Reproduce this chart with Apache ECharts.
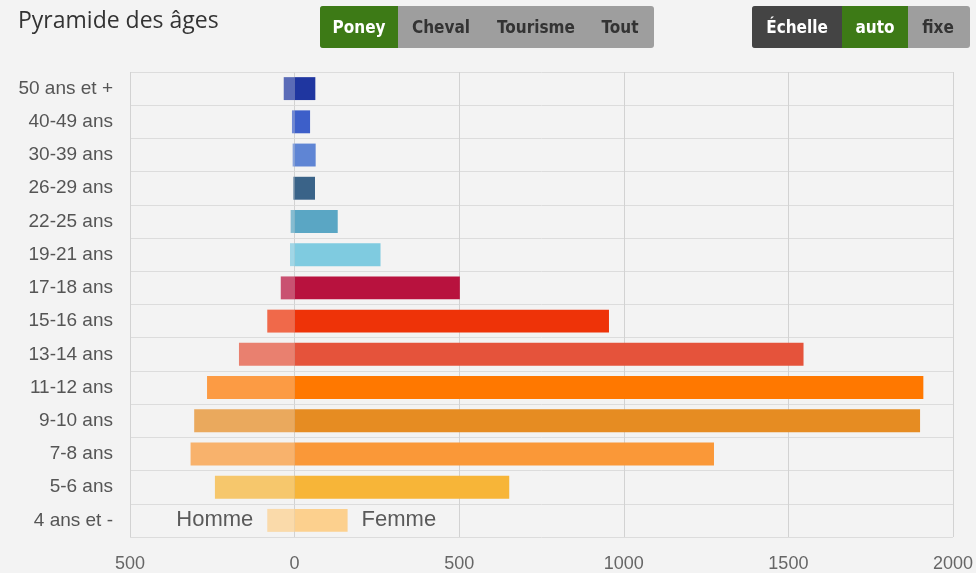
<!DOCTYPE html>
<html>
<head>
<meta charset="utf-8">
<script src="https://cdn.jsdelivr.net/npm/echarts@6/dist/echarts.min.js"></script>
<style>
html,body{margin:0;padding:0;background:#f3f3f3;overflow:hidden;}
#chart{width:976px;height:573px;}
</style>
</head>
<body>
<div id="chart"></div>
<script>
var categories = ['50 ans et +','40-49 ans','30-39 ans','26-29 ans','22-25 ans','19-21 ans','17-18 ans','15-16 ans','13-14 ans','11-12 ans','9-10 ans','7-8 ans','5-6 ans','4 ans et -'];
var femmes = [63, 47, 64, 62, 131, 261, 502, 955, 1546, 1910, 1900, 1274, 652, 161];
var hommes = [-33, -8, -6, -4, -12, -14, -42, -83, -169, -266, -305, -316, -242, -83];
var barColors = ['#1f36a0','#3d5fc9','#5f85d4','#3a6388','#5aa6c4','#7fcbe0','#b8123e','#ee3308','#e5533b','#ff7800','#e68c22','#fa9838','#f7b538','#fcd08e'];
var xTicks = {min: -500, max: 2000, interval: 500};
var buttonsLeft = ['Poney','Cheval','Tourisme','Tout'];
var buttonsRight = ['Échelle','auto','fixe'];

var FONT = "'Liberation Sans', Arial, Helvetica, sans-serif";
var chart = echarts.init(document.getElementById('chart'));

function withAlpha(hex, a){
  var r = parseInt(hex.substr(1,2),16), g = parseInt(hex.substr(3,2),16), b = parseInt(hex.substr(5,2),16);
  return 'rgba(' + r + ',' + g + ',' + b + ',' + a + ')';
}

function mkData(vals, side){
  return vals.map(function(v,i){
    var d = {value: v, itemStyle: {color: side === 'h' ? withAlpha(barColors[i], 0.72) : barColors[i]}};
    if (i === vals.length - 1) {
      d.label = {
        show: true,
        position: side === 'h' ? 'left' : 'right',
        distance: 14,
        formatter: side === 'h' ? 'Homme' : 'Femme',
        fontSize: 22,
        color: '#5a5a5a',
        fontFamily: FONT
      };
    }
    return d;
  });
}

var btnFont = "bold 17px 'Liberation Sans Narrow', 'DejaVu Sans Condensed', sans-serif";
var graphics = [
  {type:'text', left: 18, top: 10, style:{text:'Pyramide des âges', font:"23px 'Open Sans', sans-serif", fill:'#333'}},
  // left group
  {type:'rect', shape:{x:320,y:6,width:334,height:42,r:3}, style:{fill:'#9e9e9e'}},
  {type:'rect', shape:{x:320,y:6,width:78,height:42,r:[3,0,0,3]}, style:{fill:'#3d7a16'}},
  {type:'text', x:359, y:29, style:{text:buttonsLeft[0], font:btnFont, fill:'#fff', align:'center', verticalAlign:'middle'}},
  {type:'text', x:441, y:29, style:{text:buttonsLeft[1], font:btnFont, fill:'#333', align:'center', verticalAlign:'middle'}},
  {type:'text', x:536, y:29, style:{text:buttonsLeft[2], font:btnFont, fill:'#333', align:'center', verticalAlign:'middle'}},
  {type:'text', x:620, y:29, style:{text:buttonsLeft[3], font:btnFont, fill:'#333', align:'center', verticalAlign:'middle'}},
  // right group
  {type:'rect', shape:{x:752,y:6,width:218,height:42,r:3}, style:{fill:'#9e9e9e'}},
  {type:'rect', shape:{x:752,y:6,width:90,height:42,r:[3,0,0,3]}, style:{fill:'#444'}},
  {type:'rect', shape:{x:842,y:6,width:66,height:42}, style:{fill:'#3d7a16'}},
  {type:'text', x:797, y:29, style:{text:buttonsRight[0], font:btnFont, fill:'#fff', align:'center', verticalAlign:'middle'}},
  {type:'text', x:875, y:29, style:{text:buttonsRight[1], font:btnFont, fill:'#fff', align:'center', verticalAlign:'middle'}},
  {type:'text', x:938, y:29, style:{text:buttonsRight[2], font:btnFont, fill:'#333', align:'center', verticalAlign:'middle'}}
];

chart.setOption({
  backgroundColor: '#f3f3f3',
  animation: false,
  grid: {left: 130, right: 19, top: 72, bottom: 35, containLabel: false},
  xAxis: {
    type: 'value',
    min: xTicks.min, max: xTicks.max, interval: xTicks.interval,
    axisLine: {show: false},
    axisTick: {show: false},
    splitLine: {show: true, lineStyle: {color: '#d2d2d2', width: 1}},
    axisLabel: {
      formatter: function(v){ return String(Math.abs(v)); },
      fontSize: 18, color: '#666', margin: 18,
      fontFamily: FONT
    }
  },
  yAxis: {
    type: 'category',
    data: categories,
    inverse: true,
    boundaryGap: true,
    axisLine: {show: false},
    axisTick: {show: true, length: 18, lineStyle: {color: '#dcdcdc'}},
    splitLine: {show: true, lineStyle: {color: '#dcdcdc', width: 1}},
    axisLabel: {fontSize: 19, color: '#555', margin: 17, fontFamily: FONT}
  },
  series: [
    {name: 'Homme', type: 'bar', stack: 'p', barCategoryGap: '31%', data: mkData(hommes, 'h')},
    {name: 'Femme', type: 'bar', stack: 'p', barCategoryGap: '31%', data: mkData(femmes, 'f')}
  ],
  graphic: graphics
});
</script>
</body>
</html>
